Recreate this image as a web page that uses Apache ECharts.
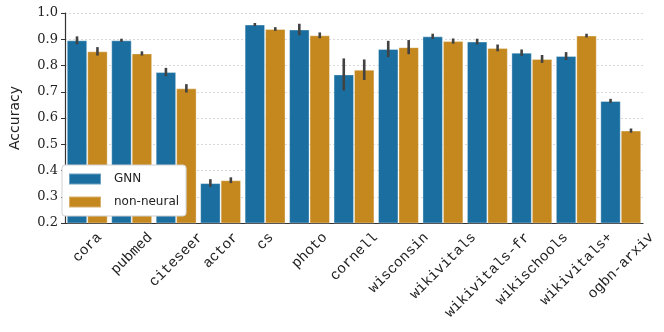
<!DOCTYPE html>
<html lang="en">
<head>
    <meta charset="UTF-8">
    <title>accuracy</title>
    <script src="https://cdn.jsdelivr.net/npm/echarts@6/dist/echarts.min.js"></script>
    <style>
        body { margin: 0; background: #fff; }
    </style>
</head>
<body>
<div id="main" style="width: 664px;height:332px;"></div>

<script type="text/javascript">
    var datasets = ['cora', 'pubmed', 'citeseer', 'actor', 'cs', 'photo', 'cornell', 'wisconsin',
        'wikivitals', 'wikivitals-fr', 'wikischools', 'wikivitals+', 'ogbn-arxiv'];
    var gnnMean = [0.896, 0.896, 0.775, 0.352, 0.956, 0.937, 0.766, 0.863, 0.911, 0.891, 0.849, 0.836, 0.665];
    var gnnErr  = [0.015, 0.006, 0.016, 0.015, 0.006, 0.022, 0.061, 0.031, 0.010, 0.011, 0.012, 0.015, 0.008];
    var nnMean  = [0.854, 0.846, 0.713, 0.363, 0.939, 0.915, 0.784, 0.870, 0.893, 0.867, 0.825, 0.914, 0.552];
    var nnErr   = [0.016, 0.008, 0.016, 0.011, 0.007, 0.011, 0.039, 0.027, 0.010, 0.013, 0.015, 0.007, 0.008];
    var yTicks  = [0.2, 1.0, 0.1];

    var blue = '#1a6fa0';
    var orange = '#c4881f';
    var catGap = 0.08;          // share of a category left empty
    var barShift = (1 - catGap) / 4;   // bar centre offset, in categories
    var labelSize = 14.5;
    var labelFont = labelSize + 'px "Liberation Mono"';

    var measure = document.createElement('canvas').getContext('2d');
    measure.font = labelFont;

    function errData(mean, err) {
        var out = [];
        for (var i = 0; i < mean.length; i++) {
            out.push([i, mean[i] - err[i], mean[i] + err[i]]);
        }
        return out;
    }

    // error bar drawn at the centre of the left (-1) or right (+1) bar
    function errItem(side) {
        return function (params, api) {
            var lo = api.coord([api.value(0), api.value(1)]);
            var hi = api.coord([api.value(0), api.value(2)]);
            var w = api.size([1, 0])[0];
            var x = lo[0] + side * w * barShift;
            return {
                type: 'line',
                shape: {x1: x, y1: lo[1], x2: x, y2: hi[1]},
                style: {stroke: '#424242', lineWidth: 2.6}
            };
        };
    }

    // rotated tick label, box centred under the tick (matplotlib ha=center, va=top)
    function labelItem(params, api) {
        var p = api.coord([api.value(0), yTicks[0]]);
        var name = datasets[params.dataIndex];
        var L = measure.measureText(name).width;
        var h = labelSize;
        return {
            type: 'group',
            children: [{
                type: 'text',
                x: p[0],
                y: p[1] + 7 + (L + h) / 2 * Math.SQRT1_2,
                rotation: Math.PI / 4,
                style: {
                    text: name,
                    align: 'center',
                    verticalAlign: 'middle',
                    font: labelFont,
                    fill: '#222'
                }
            }]
        };
    }

    var labelData = [];
    for (var i = 0; i < datasets.length; i++) {
        labelData.push([i, yTicks[0]]);
    }

    var myChart = echarts.init(document.getElementById('main'));

    var option = {
        animation: false,
        grid: {left: 53, right: 21, top: 13, bottom: 109},
        legend: {
            orient: 'vertical',
            left: 62,
            top: 165,
            data: ['GNN', 'non-neural'],
            itemWidth: 32,
            itemHeight: 11,
            itemGap: 9,
            icon: 'rect',
            backgroundColor: '#fff',
            borderColor: '#d0d0d0',
            borderWidth: 1,
            borderRadius: 3,
            padding: [7, 7, 7, 6],
            textStyle: {fontFamily: 'DejaVu Sans', fontSize: 12, color: '#222', lineHeight: 14, padding: [0, 0, 0, 8]}
        },
        xAxis: {
            type: 'category',
            data: datasets,
            axisLine: {lineStyle: {color: '#333', width: 1.2}},
            axisTick: {alignWithLabel: true, length: 4, lineStyle: {color: '#333'}},
            axisLabel: {show: false}
        },
        yAxis: {
            type: 'value',
            min: yTicks[0],
            max: yTicks[1],
            interval: yTicks[2],
            name: 'Accuracy',
            nameLocation: 'middle',
            nameRotate: 90,
            nameGap: 43,
            nameTextStyle: {fontFamily: 'DejaVu Sans', fontSize: 14, color: '#222'},
            axisLine: {show: true, lineStyle: {color: '#333', width: 1.2}},
            axisTick: {show: true, length: 4, lineStyle: {color: '#333'}},
            axisLabel: {
                fontFamily: 'DejaVu Serif',
                fontSize: 13,
                color: '#222',
                margin: 7,
                formatter: function (v) { return v.toFixed(1); }
            },
            splitLine: {lineStyle: {color: '#d0d0d0', type: [2, 2], width: 0.8}}
        },
        series: [
            {
                name: 'GNN',
                type: 'bar',
                data: gnnMean,
                barGap: '0%',
                barCategoryGap: (catGap * 100) + '%',
                itemStyle: {color: blue, borderColor: 'rgba(255,255,255,0.35)', borderWidth: 1}
            },
            {
                name: 'non-neural',
                type: 'bar',
                data: nnMean,
                barGap: '0%',
                barCategoryGap: (catGap * 100) + '%',
                itemStyle: {color: orange, borderColor: 'rgba(255,255,255,0.35)', borderWidth: 1}
            },
            {
                type: 'custom',
                renderItem: errItem(-1),
                data: errData(gnnMean, gnnErr),
                encode: {x: 0, y: [1, 2]},
                z: 5
            },
            {
                type: 'custom',
                renderItem: errItem(1),
                data: errData(nnMean, nnErr),
                encode: {x: 0, y: [1, 2]},
                z: 5
            },
            {
                type: 'custom',
                renderItem: labelItem,
                data: labelData,
                encode: {x: 0, y: 1},
                clip: false,
                silent: true
            }
        ]
    };

    myChart.setOption(option);
</script>

</body>
</html>
